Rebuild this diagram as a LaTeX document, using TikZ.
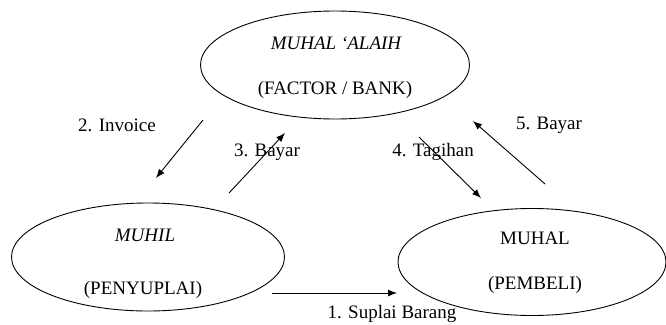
\documentclass[tikz,border=0pt]{standalone}
\usepackage{fontspec}
\setmainfont{Liberation Serif}
\usetikzlibrary{shapes.geometric,arrows.meta}
\begin{document}
\begin{tikzpicture}[x=1pt,y=-1pt,
  party/.style={draw,ellipse,line width=0.9pt,inner sep=0pt},
  lbl/.style={font=\fontsize{19}{22}\selectfont,inner sep=0pt},
  flow/.style={line width=0.9pt,-{Latex[length=9pt,width=7pt]}}]
\useasboundingbox (0,0) rectangle (666,324);
\node[party,minimum width=269pt,minimum height=108pt] (bank) at (335,65) {};
\node[party,minimum width=273pt,minimum height=108pt] (muhil) at (148,257) {};
\node[party,minimum width=268pt,minimum height=107pt] (muhal) at (532,262) {};
\node[lbl,font=\fontsize{19}{22}\selectfont\itshape] (t1) at (336,43) {MUHAL \lq ALAIH};
\node[lbl] (t2) at (335,90) {(FACTOR / BANK)};
\node[lbl,font=\fontsize{19}{22}\selectfont\itshape] (t3) at (145,235) {MUHIL};
\node[lbl] (t4) at (143,290) {(PENYUPLAI)};
\node[lbl] (t5) at (535,238) {MUHAL};
\node[lbl] (t6) at (535,285) {(PEMBELI)};
\coordinate (a2s) at (203,120); \coordinate (a2e) at (156,178);
\coordinate (a3s) at (229,193); \coordinate (a3e) at (285,133);
\coordinate (a4s) at (419,137); \coordinate (a4e) at (481,198);
\coordinate (a5s) at (545,184); \coordinate (a5e) at (473,121);
\coordinate (a1s) at (272,293); \coordinate (a1e) at (397,293);
\draw[flow] (a2s) -- (a2e);
\draw[flow] (a3s) -- (a3e);
\draw[flow] (a4s) -- (a4e);
\draw[flow] (a5s) -- (a5e);
\draw[flow] (a1s) -- (a1e);
\node[lbl] (l2) at (117,125) {2. Invoice};
\node[lbl] (l3) at (267,152) {3. Bayar};
\node[lbl] (l4) at (433,152) {4. Tagihan};
\node[lbl] (l5) at (549,125) {5. Bayar};
\node[lbl] (l1) at (392,314) {1. Suplai Barang};
\end{tikzpicture}
\end{document}
